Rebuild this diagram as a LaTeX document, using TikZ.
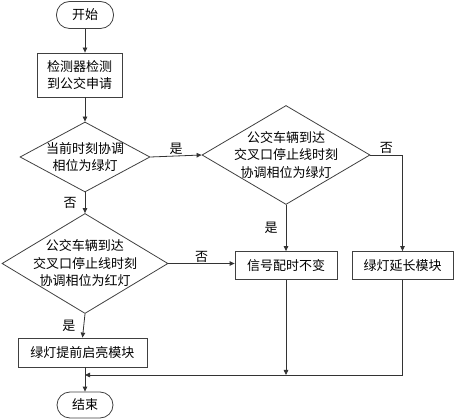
\documentclass[tikz,border=0pt]{standalone}
\usepackage{fontspec}
\usepackage{tikz}
\usetikzlibrary{shapes.geometric,arrows.meta}
\newfontfamily\cjk{Noto Sans CJK SC}
\tikzset{
  base/.style = {draw=black!75,line width=0.8pt,font=\cjk\fontsize{13}{17.5}\selectfont,align=center},
  term/.style = {base,rounded corners=13pt,minimum width=57pt,minimum height=27pt},
  procbox/.style = {base,minimum width=#1,minimum height=29pt,inner sep=0pt},
  decide/.style = {base,diamond,inner sep=-16pt},
  arr/.style = {draw=black!80,line width=0.8pt,-{Triangle[length=5pt,width=4.5pt]}},
  lbl/.style = {font=\cjk\fontsize{13}{15}\selectfont,inner sep=1pt}
}

\begin{document}
\begin{tikzpicture}[x=1pt,y=-1pt]
\useasboundingbox (0,0) rectangle (455,419);

\node[term] (start) at (85,15) {开始};
\node[procbox=85pt,minimum height=44pt] (det) at (79.5,75) {检测器检测\\到公交申请};
\node[decide,minimum width=130pt,minimum height=70pt] (cur) at (85,157) {当前时刻协调\\相位为绿灯};
\node[decide,minimum width=168pt,minimum height=99pt] (arrg) at (286,155) {公交车辆到达\\交叉口停止线时刻\\协调相位为绿灯};
\node[decide,minimum width=166pt,minimum height=100pt] (arrr) at (85,263.5) {公交车辆到达\\交叉口停止线时刻\\协调相位为红灯};
\node[procbox=102pt,minimum height=28pt] (keep) at (286,265.5) {信号配时不变};
\node[procbox=101pt,minimum height=28pt] (ext) at (402.5,265.5) {绿灯延长模块};
\node[procbox=129pt] (early) at (82.5,352.5) {绿灯提前启亮模块};
\node[term,minimum width=56pt,minimum height=26pt] (end) at (85,405) {结束};

\coordinate (mrg) at (286,375);
\coordinate (jn) at (85,375);

% main column
\draw[arr] (start) -- (start |- det.north);
\draw[arr] (det.south -| cur) -- (cur.north);
\draw[arr] (cur.east) -- node[lbl,above] (y1) {是} (arrg.west);
\draw[arr] (cur.south) -- node[lbl,left=7pt] (n1) {否} (arrr.north);
\draw[arr] (arrr.south) -- node[lbl,left=7pt] (y3) {是} (early.north);
\draw[arr] (early.south -| end) -- (end.north);

% right side
\draw[arr] (arrg.south) -- node[lbl,left=7pt] (y2) {是} (keep.north);
\draw[arr] (arrg.east) -- node[lbl,above] (n2) {否} (arrg.east -| ext) -- (ext.north);
\draw[arr] (arrr.east) -- node[lbl,above] (n3) {否} (arrr.east -| keep.west);

% merge
\draw[arr] (keep.south) -- (mrg);
\draw[arr] (ext.south) |- (jn);
\end{tikzpicture}
\end{document}
